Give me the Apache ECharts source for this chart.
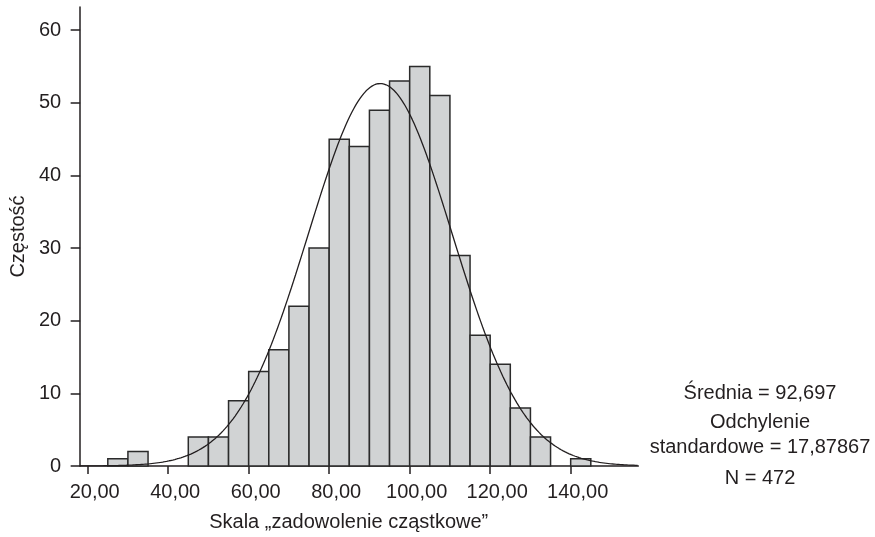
<!DOCTYPE html>
<html>
<head>
<meta charset="utf-8">
<script src="https://cdn.jsdelivr.net/npm/echarts@6/dist/echarts.min.js"></script>
<style>
  html, body { margin: 0; padding: 0; background: #ffffff; }
  #chart { width: 875px; height: 537px; }
</style>
</head>
<body>
<div id="chart"></div>
<script>
// Histogram bins (lower edges) and frequencies
const binStarts = [25, 30, 35, 40, 45, 50, 55, 60, 65, 70, 75, 80, 85, 90, 95, 100, 105, 110, 115, 120, 125, 130, 135, 140];
const counts    = [1,  2,  0,  0,  4,  4,  9,  13, 16, 22, 30, 45, 44, 49, 53, 55,  51,  29,  18,  14,  8,   4,   0,   1];
const binWidth = 5;

// Summary statistics shown on the chart
const MEAN = 92.697;
const SD = 17.87867;
const N = 472;

// Axis ticks
const xTicks = [20, 40, 60, 80, 100, 120, 140];
const yTicks = [0, 10, 20, 30, 40, 50, 60];

const statLines = ['Średnia = 92,697', 'Odchylenie', 'standardowe = 17,87867', 'N = 472'];

const X_MIN = 18.13, X_MAX = 156.8, Y_MAX = 63.2;

const histData = binStarts.map((s, i) => [s, s + binWidth, counts[i]]);

// Fitted normal curve (expected frequencies per bin) from the displayed mean / SD / N
const curve = [];
for (let x = X_MIN; x <= X_MAX + 1e-9; x += 0.5) {
  const z = (x - MEAN) / SD;
  curve.push([x, N * binWidth * Math.exp(-0.5 * z * z) / (SD * Math.sqrt(2 * Math.PI))]);
}

const FONT = "'Liberation Sans', Arial, Helvetica, sans-serif";
const TXT = '#231f20';
const FS = 20;

const chart = echarts.init(document.getElementById('chart'), null, { renderer: 'canvas' });
chart.setOption({
  animation: false,
  backgroundColor: '#ffffff',
  grid: { left: 75.7, right: 236.7, top: 7, bottom: 71 },
  xAxis: {
    type: 'value',
    min: X_MIN, max: X_MAX,
    name: 'Skala „zadowolenie cząstkowe”',
    nameLocation: 'middle',
    nameGap: 46,
    nameTextStyle: { fontFamily: FONT, fontSize: FS, color: TXT, padding: [0, 21, 0, 0] },
    axisLine: { show: true, onZero: false, lineStyle: { color: '#231f20', width: 1.5 } },
    axisTick: { show: true, customValues: xTicks, length: 8, inside: false, lineStyle: { color: '#231f20', width: 1.5 } },
    axisLabel: {
      customValues: xTicks,
      margin: 16,
      fontFamily: FONT, fontSize: FS, color: TXT,
      padding: [0, 0, 0, 14],
      formatter: v => v.toFixed(2).replace('.', ',')
    },
    splitLine: { show: false }
  },
  yAxis: {
    type: 'value',
    min: 0, max: Y_MAX,
    name: 'Częstość',
    nameLocation: 'middle',
    nameRotate: 90,
    nameGap: 50,
    nameTextStyle: { fontFamily: FONT, fontSize: FS, color: TXT },
    axisLine: { show: true, lineStyle: { color: '#231f20', width: 1.5 } },
    axisTick: { show: true, customValues: yTicks, length: 9.5, inside: false, lineStyle: { color: '#231f20', width: 1.5 } },
    axisLabel: {
      customValues: yTicks,
      margin: 19,
      fontFamily: FONT, fontSize: FS, color: TXT,
      padding: [0, 0, 5, 0]
    },
    splitLine: { show: false }
  },
  series: [
    {
      type: 'custom',
      data: histData,
      renderItem: function (params, api) {
        const p0 = api.coord([api.value(0), 0]);
        const p1 = api.coord([api.value(1), api.value(2)]);
        if (api.value(2) <= 0) return null;
        return {
          type: 'rect',
          shape: { x: p0[0], y: p1[1], width: p1[0] - p0[0], height: p0[1] - p1[1] },
          style: { fill: '#d1d3d4', stroke: '#2b2b2b', lineWidth: 1.5 }
        };
      },
      encode: { x: [0, 1], y: 2 },
      z: 2
    },
    {
      type: 'line',
      data: curve,
      showSymbol: false,
      smooth: false,
      lineStyle: { color: '#231f20', width: 1.3 },
      z: 3
    }
  ],
  graphic: statLines.map((t, i) => ({
    type: 'text',
    x: 760,
    y: [393, 422, 447, 478][i],
    style: {
      text: t,
      fontFamily: FONT, fontSize: FS, fill: TXT,
      textAlign: 'center', textVerticalAlign: 'middle'
    }
  }))
});
</script>
</body>
</html>
